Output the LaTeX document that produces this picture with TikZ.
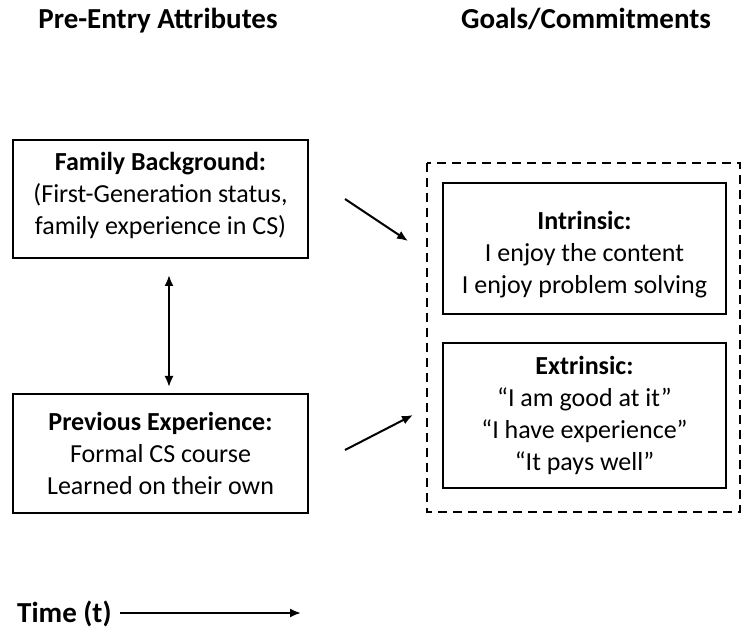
\documentclass[tikz,border=0pt]{standalone}
\usepackage{fontspec}
\setmainfont{Carlito}
\usetikzlibrary{arrows.meta}
\begin{document}
\begin{tikzpicture}[x=1pt,y=-1pt,
  box/.style={draw,line width=2pt,minimum width=#1,align=center,inner sep=0pt},
  txt/.style={font=\fontsize{26}{32}\selectfont,align=center,inner sep=0pt},
  head/.style={font=\fontsize{29}{34}\selectfont\bfseries,anchor=base,inner sep=0pt},
  arr/.style={-{Latex[length=11pt,width=9pt]},line width=2pt}]
\useasboundingbox (0,0) rectangle (742,628);
\node[head] (h1) at (158,29) {Pre-Entry Attributes};
\node[head] (h2) at (586,29) {Goals/Commitments};
\node[box=295pt,minimum height=118pt] (fam) at (160.5,199) {};
\node[txt] (famT) at (160.5,195) {\textbf{Family Background:}\\(First-Generation status,\\family experience in CS)};
\node[box=295pt,minimum height=119pt,txt] (prev) at (160.5,453.5) {\textbf{Previous Experience:}\\Formal CS course\\Learned on their own};
\draw[line width=1.8pt,dash pattern=on 9pt off 6pt] (427,163) rectangle (740,512);
\node[box=283pt,minimum height=131pt] (intr) at (584.5,248.5) {};
\node[txt] (intrT) at (584.5,255) {\textbf{Intrinsic:}\\I enjoy the content\\I enjoy problem solving};
\node[box=283pt,minimum height=145pt,txt] (extr) at (584.5,415.5) {\textbf{Extrinsic:}\\“I am good at it”\\“I have experience”\\“It pays well”};
\coordinate (a1s) at (345,199);
\coordinate (a1e) at (408,241);
\coordinate (a2s) at (345,450);
\coordinate (a2e) at (413,415);
\draw[arr] (a1s) -- (a1e);
\draw[arr] (a2s) -- (a2e);
\coordinate (d1) at (169,275);
\coordinate (d2) at (169,387);
\draw[{Latex[length=11pt,width=9pt]}-{Latex[length=11pt,width=9pt]},line width=2pt] (d1) -- (d2);
\node[head,anchor=base west] (time) at (17,622) {Time (t)};
\coordinate (ts) at (120,613);
\coordinate (te) at (301,613);
\draw[arr] (ts) -- (te);
\end{tikzpicture}
\end{document}
